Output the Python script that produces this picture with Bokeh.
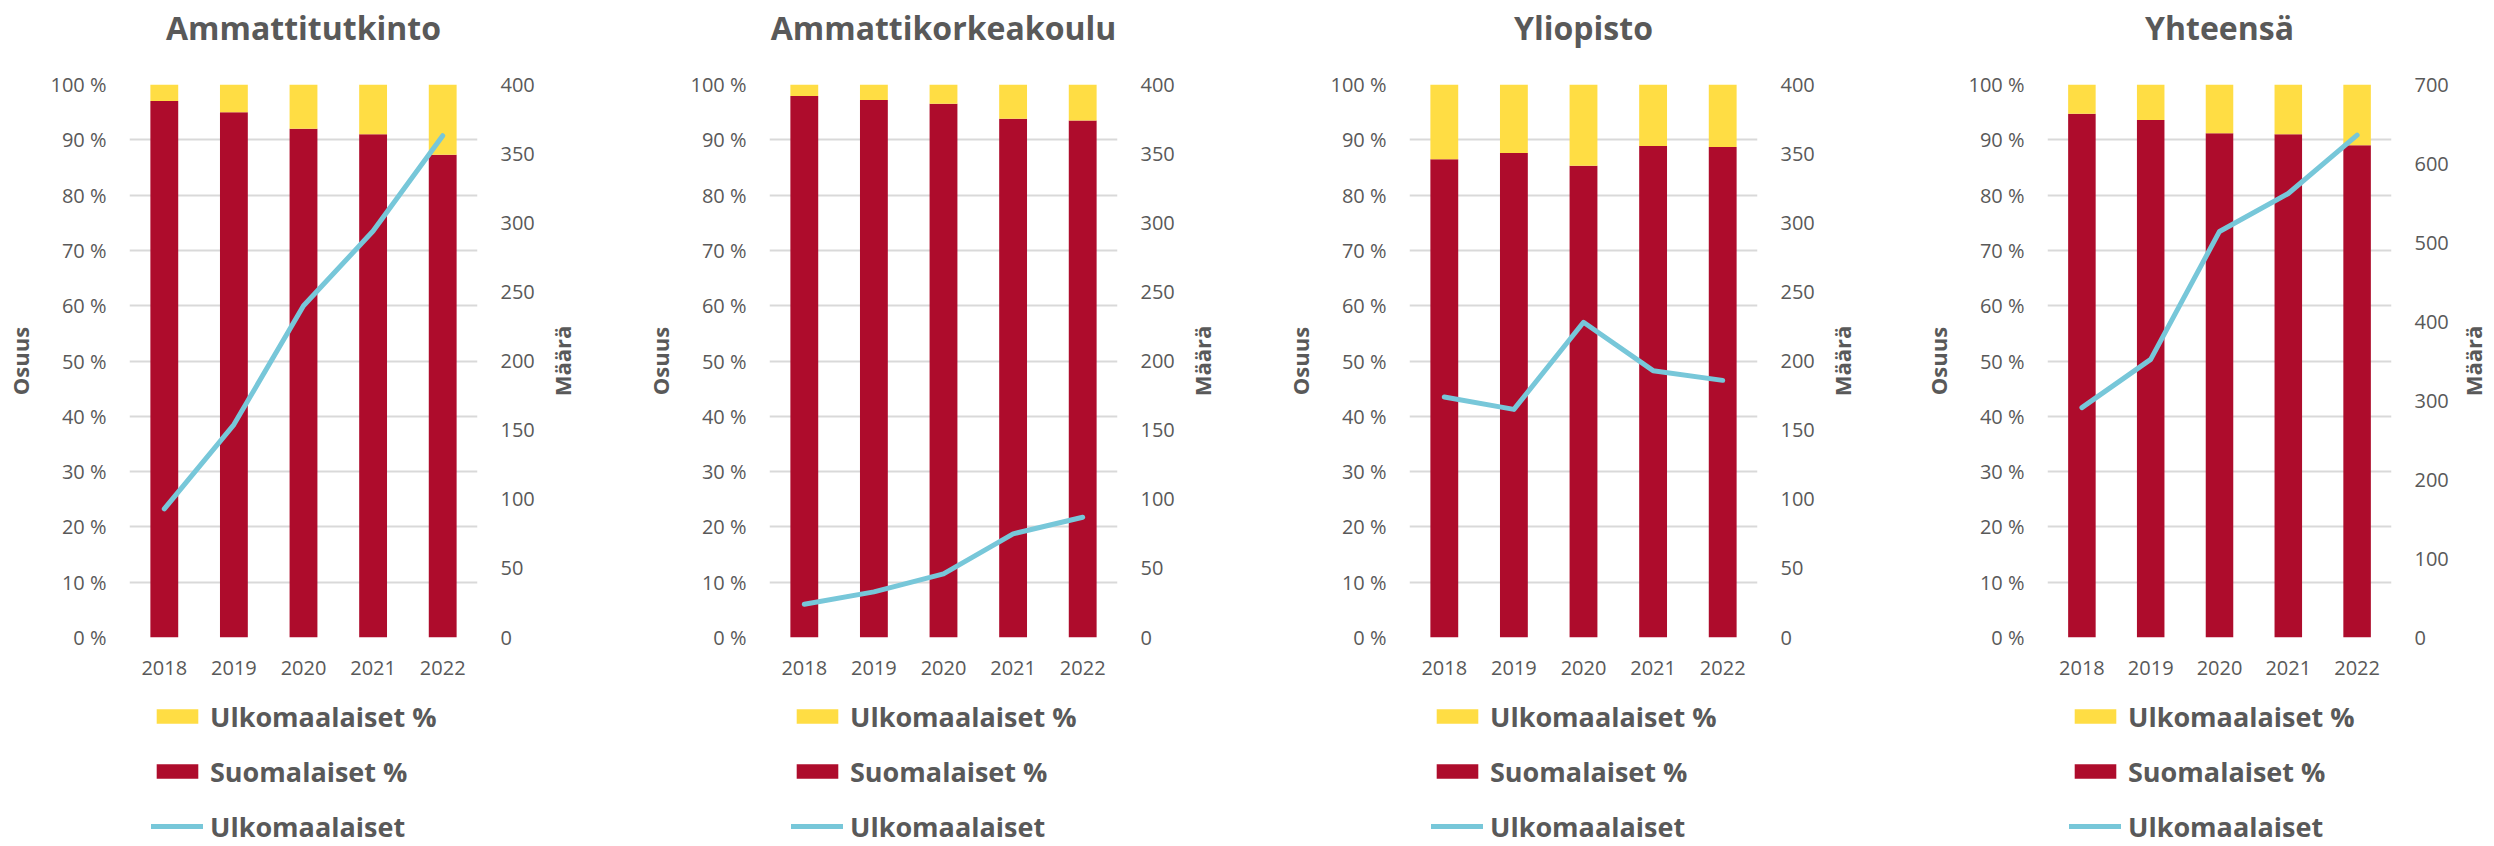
from bokeh.plotting import figure
from bokeh.models import (FactorRange, Range1d, LinearAxis, FixedTicker, Legend,
                          LegendItem, ColumnDataSource)
from bokeh.layouts import row, column
from bokeh.embed import file_html
from bokeh.resources import INLINE

# ---------------- data ----------------
years = ["2018", "2019", "2020", "2021", "2022"]
titles = ["Ammattitutkinto", "Ammattikorkeakoulu", "Yliopisto", "Yhteensä"]

suomalaiset_pct_amm = [97.0, 95.0, 92.0, 91.0, 87.3]
ulkomaalaiset_pct_amm = [3.0, 5.0, 8.0, 9.0, 12.7]
ulkomaalaiset_amm = [93, 154, 240, 294, 363]

suomalaiset_pct_amk = [97.9, 97.2, 96.5, 93.8, 93.5]
ulkomaalaiset_pct_amk = [2.1, 2.8, 3.5, 6.2, 6.5]
ulkomaalaiset_amk = [24, 33, 46, 75, 87]

suomalaiset_pct_yo = [86.5, 87.6, 85.3, 88.9, 88.7]
ulkomaalaiset_pct_yo = [13.5, 12.4, 14.7, 11.1, 11.3]
ulkomaalaiset_yo = [174, 165, 228, 193, 186]

suomalaiset_pct_yht = [94.7, 93.6, 91.2, 91.0, 89.0]
ulkomaalaiset_pct_yht = [5.3, 6.4, 8.8, 9.0, 11.0]
ulkomaalaiset_yht = [291, 352, 514, 562, 636]

pct_ticks = [0, 10, 20, 30, 40, 50, 60, 70, 80, 90, 100]
pct_labels = ["0 %", "10 %", "20 %", "30 %", "40 %", "50 %", "60 %", "70 %", "80 %", "90 %", "100 %"]
count_ticks_400 = [0, 50, 100, 150, 200, 250, 300, 350, 400]
count_ticks_700 = [0, 100, 200, 300, 400, 500, 600, 700]

legend_labels = ["Ulkomaalaiset %", "Suomalaiset %", "Ulkomaalaiset"]
left_axis_title = "Osuus"
right_axis_title = "Määrä"

# ---------------- style ----------------
RED = "#AE0C2C"
YELLOW = "#FFDD44"
LINE = "#77C7D9"
TEXT = "#595959"
GRID = "#D9D9D9"
FONT = "Open Sans"
TITLE_H = 64
CHART_H = 626
LEGEND_H = 156
TOTAL_H = TITLE_H + CHART_H + LEGEND_H


def style_axis(ax):
    ax.axis_line_color = None
    ax.major_tick_line_color = None
    ax.minor_tick_line_color = None
    ax.major_tick_out = 0
    ax.major_tick_in = 0
    ax.minor_tick_out = 0
    ax.minor_tick_in = 0
    ax.major_label_text_font = FONT
    ax.major_label_text_font_size = "20px"
    ax.major_label_text_color = TEXT
    ax.axis_label_text_font = FONT
    ax.axis_label_text_font_size = "22px"
    ax.axis_label_text_font_style = "bold"
    ax.axis_label_text_color = TEXT


def blank(p):
    p.grid.visible = False
    p.outline_line_color = None


def make_panel(title, suomi, ulko_pct, ulko_n, cticks, width, bl, br, strip_w, strip_bl, strip_std):
    src = ColumnDataSource(dict(year=years, suomi=suomi, ulko=ulko_pct, n=ulko_n))
    cmax = cticks[-1]

    # --- title strip
    tf = figure(width=width, height=TITLE_H, x_range=Range1d(0, 1), y_range=Range1d(0, 1),
                min_border_left=bl, min_border_right=br, min_border_top=50, min_border_bottom=0,
                x_axis_location=None, y_axis_location=None, title=title,
                output_backend="svg", toolbar_location=None)
    blank(tf)
    tf.title.align = "center"
    tf.title.vertical_align = "bottom"
    tf.title.standoff = 6
    tf.title.text_font = FONT
    tf.title.text_font_size = "32px"
    tf.title.text_font_style = "bold"
    tf.title.text_color = TEXT

    # --- chart
    p = figure(x_range=FactorRange(*years), y_range=Range1d(0, 100),
               width=width, height=CHART_H,
               min_border_left=bl, min_border_right=br,
               min_border_top=20, min_border_bottom=53,
               output_backend="svg", toolbar_location=None)
    p.extra_y_ranges = {"n": Range1d(0, cmax)}

    p.vbar_stack(["suomi", "ulko"], x="year", width=0.4, color=[RED, YELLOW],
                 line_color=None, source=src)
    p.line(x="year", y="n", y_range_name="n", source=src, line_color=LINE,
           line_width=5, line_cap="round", line_join="round")

    ya = p.yaxis[0]
    ya.ticker = FixedTicker(ticks=pct_ticks)
    ya.major_label_overrides = dict(zip(pct_ticks, pct_labels))
    ya.axis_label = left_axis_title
    style_axis(ya)
    ya.major_label_standoff = 23
    ya.axis_label_standoff = 12

    ra = LinearAxis(y_range_name="n", ticker=FixedTicker(ticks=cticks))
    style_axis(ra)
    ra.major_label_standoff = 23
    p.add_layout(ra, "right")

    xa = p.xaxis[0]
    style_axis(xa)
    xa.major_label_standoff = 23

    p.xgrid.grid_line_color = None
    p.ygrid.grid_line_color = GRID
    p.ygrid.grid_line_width = 2
    p.outline_line_color = None

    # --- legend strip (its renderers have no visible geometry)
    lg = figure(width=width, height=LEGEND_H, x_range=FactorRange(*years),
                y_range=Range1d(-2, -1),
                min_border_left=bl, min_border_right=br,
                min_border_top=0, min_border_bottom=0,
                x_axis_location=None, y_axis_location=None,
                output_backend="svg", toolbar_location=None)
    blank(lg)
    r_ulko = lg.vbar(x="year", top="ulko", width=0, color=YELLOW, line_color=None, source=src)
    r_suomi = lg.vbar(x="year", top="suomi", width=0, color=RED, line_color=None, source=src)
    r_line = lg.line(x="year", y="n", line_color=LINE, line_width=5, line_cap="round", source=src)
    legend = Legend(items=[LegendItem(label=legend_labels[0], renderers=[r_ulko]),
                           LegendItem(label=legend_labels[1], renderers=[r_suomi]),
                           LegendItem(label=legend_labels[2], renderers=[r_line])],
                    location=(22, 1), orientation="vertical",
                    glyph_width=52, glyph_height=18, label_standoff=7,
                    label_height=38,
                    label_text_font=FONT, label_text_font_size="27px",
                    label_text_font_style="bold", label_text_color=TEXT,
                    spacing=17, padding=0, margin=0,
                    border_line_color=None, background_fill_alpha=0)
    lg.add_layout(legend, "center")

    # --- narrow strip carrying the right-hand axis title (reads bottom-to-top)
    st = figure(width=strip_w, height=TOTAL_H, x_range=Range1d(0, 1), y_range=Range1d(0, cmax),
                min_border_left=strip_bl, min_border_right=0,
                min_border_top=TITLE_H + 20, min_border_bottom=LEGEND_H + 53,
                x_axis_location=None, y_axis_location="left",
                output_backend="svg", toolbar_location=None)
    blank(st)
    sa = st.yaxis[0]
    sa.ticker = FixedTicker(ticks=[])
    sa.axis_label = right_axis_title
    style_axis(sa)
    sa.major_label_standoff = 0
    sa.axis_label_standoff = strip_std

    return [column(tf, p, lg, spacing=0), st]


parts = []
parts += make_panel(titles[0], suomalaiset_pct_amm, ulkomaalaiset_pct_amm, ulkomaalaiset_amm,
                    count_ticks_400, 540, 129, 63, 100, 40, 4)
parts += make_panel(titles[1], suomalaiset_pct_amk, ulkomaalaiset_pct_amk, ulkomaalaiset_amk,
                    count_ticks_400, 540, 129, 63, 100, 40, 4)
parts += make_panel(titles[2], suomalaiset_pct_yo, ulkomaalaiset_pct_yo, ulkomaalaiset_yo,
                    count_ticks_400, 540, 129, 63, 100, 40, 4)
parts += make_panel(titles[3], suomalaiset_pct_yht, ulkomaalaiset_pct_yht, ulkomaalaiset_yht,
                    count_ticks_700, 531, 126, 60, 43, 38, 2)

layout = row(*parts, spacing=0)
open("out.html", "w").write(file_html(layout, INLINE))
